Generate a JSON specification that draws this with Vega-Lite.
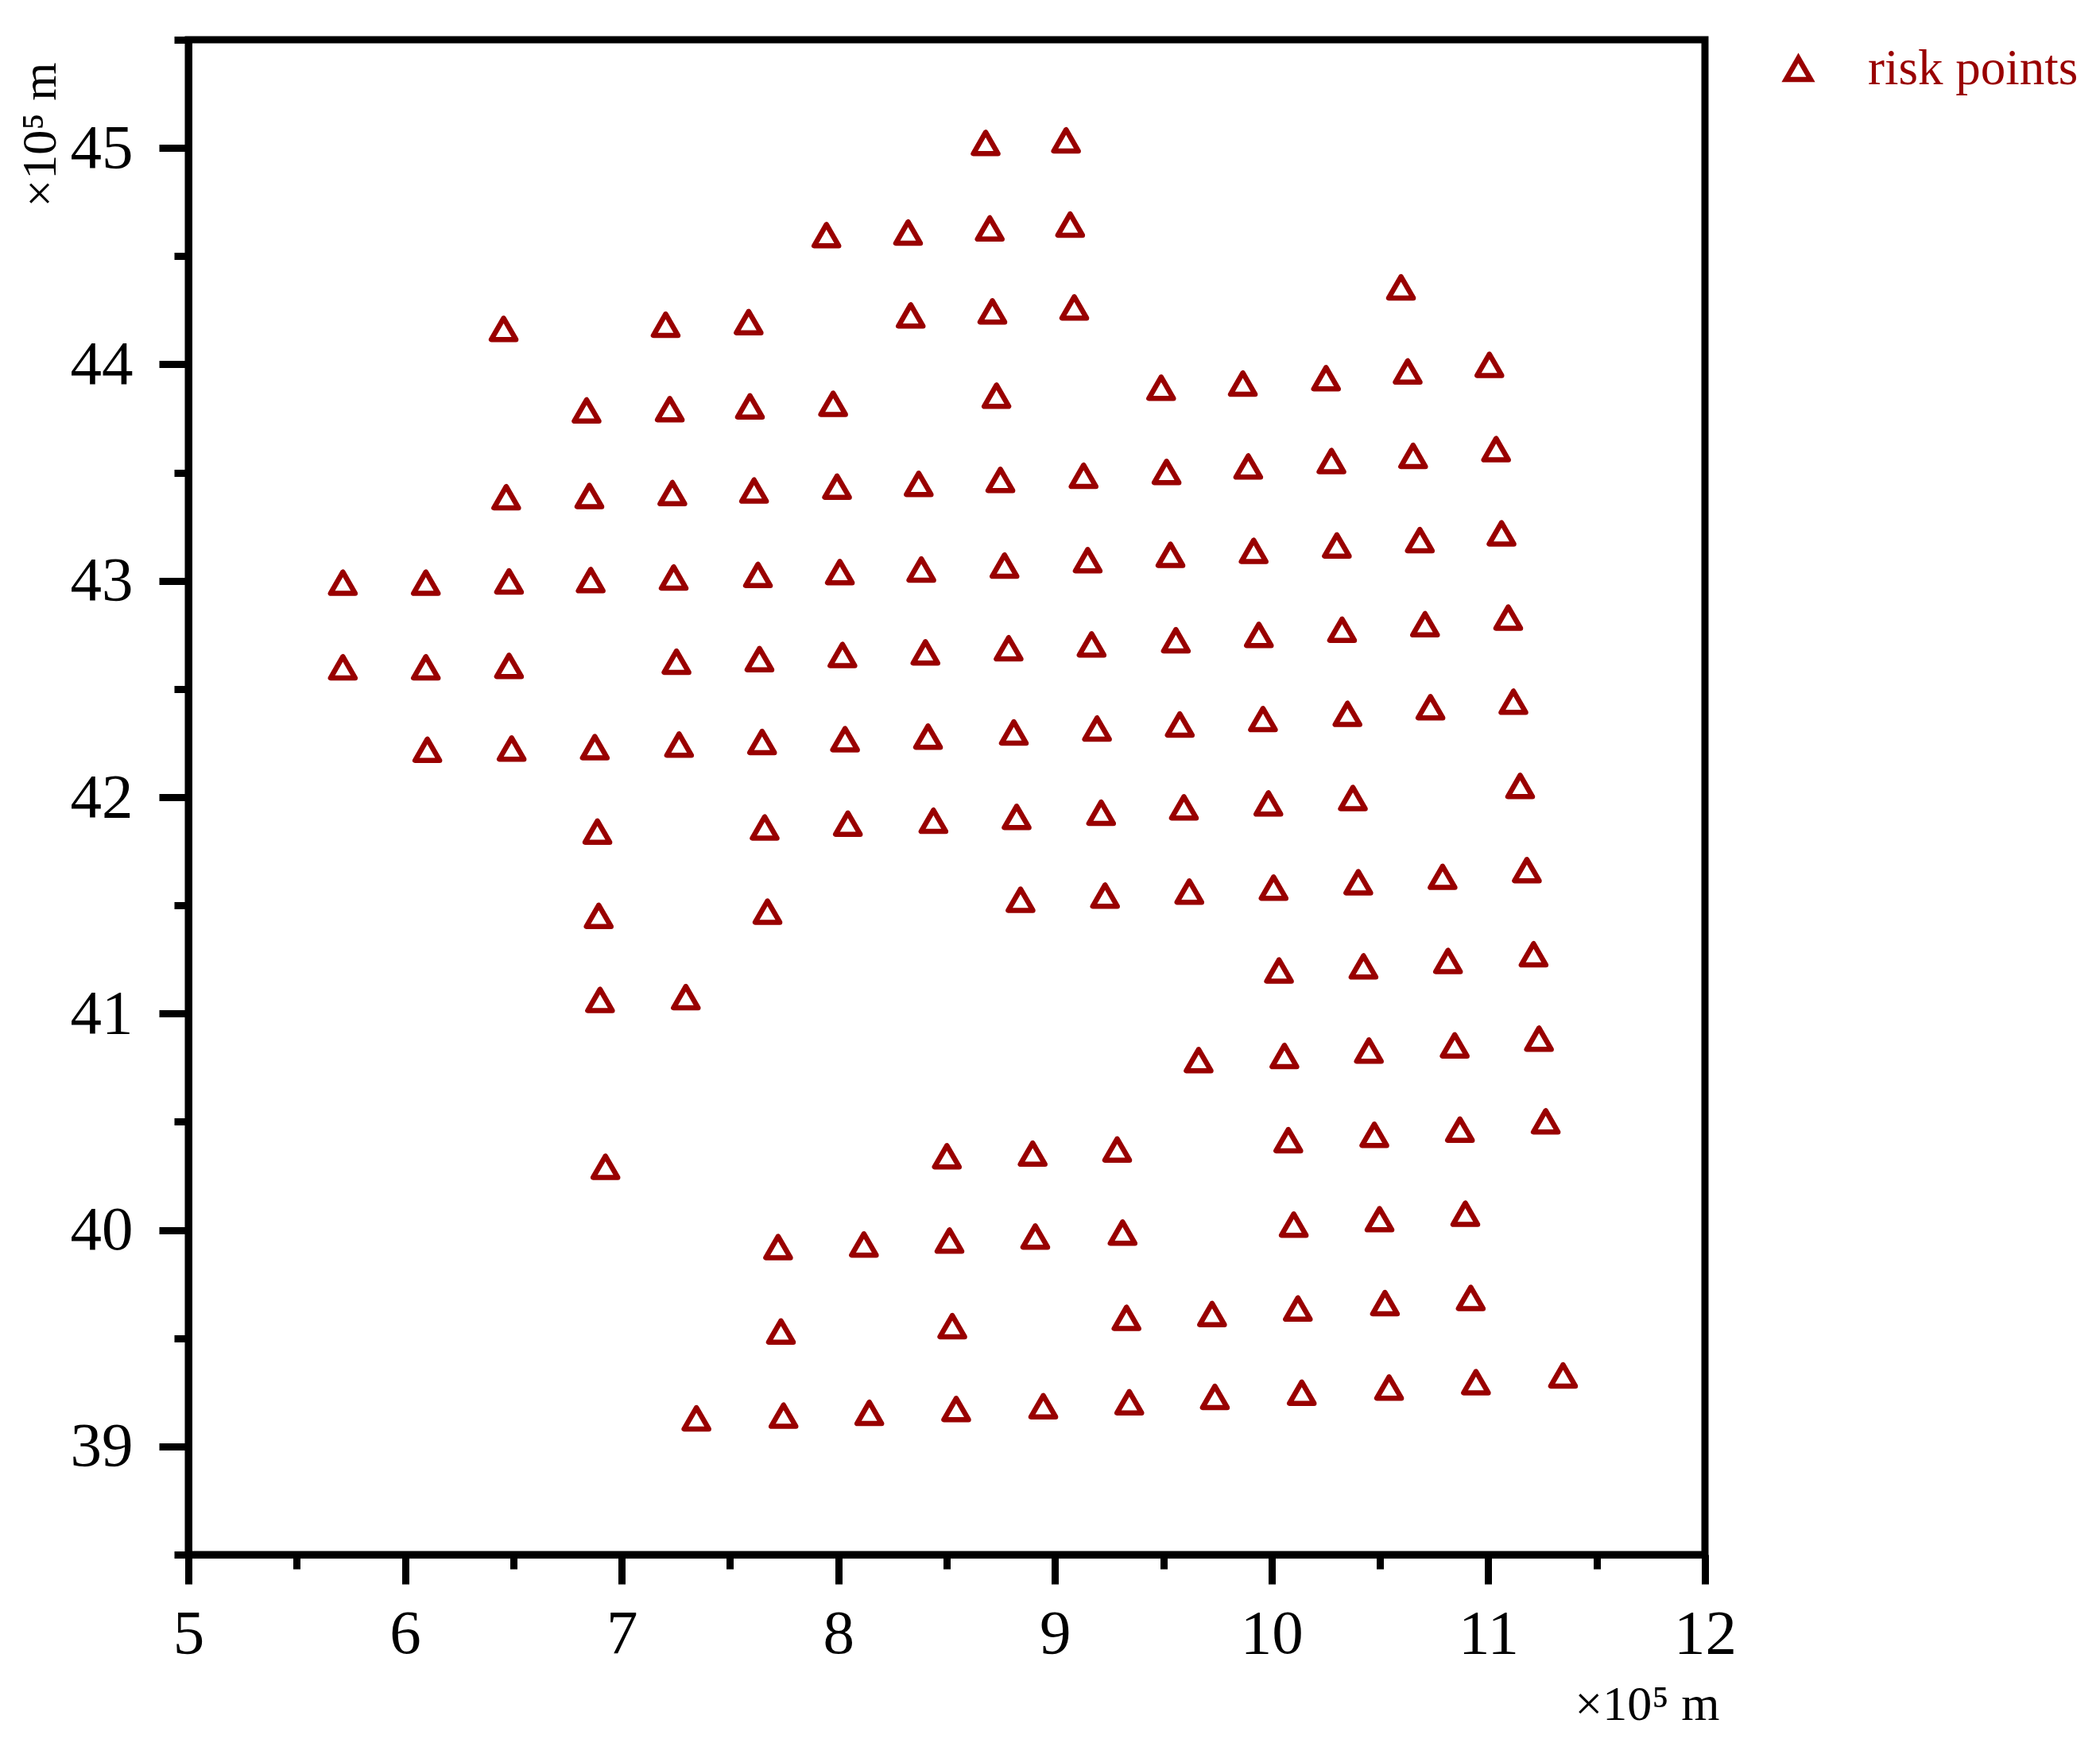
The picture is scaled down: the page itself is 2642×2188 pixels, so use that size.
{
  "$schema": "https://vega.github.io/schema/vega-lite/v6.json",
  "width": 1908,
  "height": 1906,
  "autosize": {"type": "none"},
  "padding": {"left": 237, "top": 50, "right": 497, "bottom": 232},
  "background": "white",
  "config": {
    "view": {"stroke": "black", "strokeWidth": 9},
    "font": "Liberation Serif",
    "axis": {
      "grid": false,
      "domainColor": "black",
      "domainWidth": 9,
      "tickColor": "black",
      "tickWidth": 9,
      "labelFont": "Liberation Serif",
      "labelFontSize": 79,
      "labelColor": "black",
      "labelOverlap": false,
      "labelFlush": false,
      "titleFont": "Liberation Serif",
      "titleFontSize": 62,
      "titleFontWeight": "normal",
      "titleColor": "black"
    }
  },
  "data": {
    "values": [
      {"x": 8.680, "y": 45.023, "series": "risk points"},
      {"x": 9.051, "y": 45.035, "series": "risk points"},
      {"x": 7.945, "y": 44.597, "series": "risk points"},
      {"x": 8.322, "y": 44.609, "series": "risk points"},
      {"x": 8.699, "y": 44.628, "series": "risk points"},
      {"x": 9.070, "y": 44.646, "series": "risk points"},
      {"x": 6.455, "y": 44.164, "series": "risk points"},
      {"x": 7.203, "y": 44.183, "series": "risk points"},
      {"x": 7.586, "y": 44.195, "series": "risk points"},
      {"x": 8.334, "y": 44.226, "series": "risk points"},
      {"x": 8.711, "y": 44.245, "series": "risk points"},
      {"x": 9.089, "y": 44.263, "series": "risk points"},
      {"x": 10.597, "y": 44.356, "series": "risk points"},
      {"x": 6.838, "y": 43.787, "series": "risk points"},
      {"x": 7.222, "y": 43.793, "series": "risk points"},
      {"x": 7.592, "y": 43.806, "series": "risk points"},
      {"x": 7.976, "y": 43.818, "series": "risk points"},
      {"x": 8.730, "y": 43.855, "series": "risk points"},
      {"x": 9.490, "y": 43.892, "series": "risk points"},
      {"x": 9.867, "y": 43.911, "series": "risk points"},
      {"x": 10.251, "y": 43.936, "series": "risk points"},
      {"x": 10.628, "y": 43.967, "series": "risk points"},
      {"x": 11.005, "y": 43.998, "series": "risk points"},
      {"x": 6.467, "y": 43.386, "series": "risk points"},
      {"x": 6.851, "y": 43.392, "series": "risk points"},
      {"x": 7.234, "y": 43.405, "series": "risk points"},
      {"x": 7.611, "y": 43.417, "series": "risk points"},
      {"x": 7.994, "y": 43.435, "series": "risk points"},
      {"x": 8.371, "y": 43.448, "series": "risk points"},
      {"x": 8.748, "y": 43.466, "series": "risk points"},
      {"x": 9.132, "y": 43.485, "series": "risk points"},
      {"x": 9.515, "y": 43.503, "series": "risk points"},
      {"x": 9.892, "y": 43.528, "series": "risk points"},
      {"x": 10.276, "y": 43.553, "series": "risk points"},
      {"x": 10.653, "y": 43.577, "series": "risk points"},
      {"x": 11.036, "y": 43.608, "series": "risk points"},
      {"x": 5.713, "y": 42.991, "series": "risk points"},
      {"x": 6.096, "y": 42.991, "series": "risk points"},
      {"x": 6.480, "y": 42.997, "series": "risk points"},
      {"x": 6.857, "y": 43.003, "series": "risk points"},
      {"x": 7.240, "y": 43.015, "series": "risk points"},
      {"x": 7.629, "y": 43.027, "series": "risk points"},
      {"x": 8.007, "y": 43.040, "series": "risk points"},
      {"x": 8.383, "y": 43.052, "series": "risk points"},
      {"x": 8.767, "y": 43.070, "series": "risk points"},
      {"x": 9.151, "y": 43.095, "series": "risk points"},
      {"x": 9.533, "y": 43.120, "series": "risk points"},
      {"x": 9.917, "y": 43.138, "series": "risk points"},
      {"x": 10.301, "y": 43.163, "series": "risk points"},
      {"x": 10.684, "y": 43.188, "series": "risk points"},
      {"x": 11.061, "y": 43.219, "series": "risk points"},
      {"x": 5.713, "y": 42.600, "series": "risk points"},
      {"x": 6.096, "y": 42.600, "series": "risk points"},
      {"x": 6.480, "y": 42.607, "series": "risk points"},
      {"x": 7.253, "y": 42.626, "series": "risk points"},
      {"x": 7.636, "y": 42.638, "series": "risk points"},
      {"x": 8.019, "y": 42.657, "series": "risk points"},
      {"x": 8.402, "y": 42.669, "series": "risk points"},
      {"x": 8.786, "y": 42.688, "series": "risk points"},
      {"x": 9.169, "y": 42.706, "series": "risk points"},
      {"x": 9.558, "y": 42.725, "series": "risk points"},
      {"x": 9.941, "y": 42.750, "series": "risk points"},
      {"x": 10.325, "y": 42.774, "series": "risk points"},
      {"x": 10.708, "y": 42.799, "series": "risk points"},
      {"x": 11.092, "y": 42.830, "series": "risk points"},
      {"x": 6.103, "y": 42.219, "series": "risk points"},
      {"x": 6.492, "y": 42.225, "series": "risk points"},
      {"x": 6.876, "y": 42.231, "series": "risk points"},
      {"x": 7.265, "y": 42.243, "series": "risk points"},
      {"x": 7.648, "y": 42.255, "series": "risk points"},
      {"x": 8.031, "y": 42.268, "series": "risk points"},
      {"x": 8.414, "y": 42.280, "series": "risk points"},
      {"x": 8.810, "y": 42.299, "series": "risk points"},
      {"x": 9.194, "y": 42.317, "series": "risk points"},
      {"x": 9.576, "y": 42.336, "series": "risk points"},
      {"x": 9.960, "y": 42.361, "series": "risk points"},
      {"x": 10.350, "y": 42.385, "series": "risk points"},
      {"x": 10.733, "y": 42.416, "series": "risk points"},
      {"x": 11.116, "y": 42.441, "series": "risk points"},
      {"x": 6.888, "y": 41.841, "series": "risk points"},
      {"x": 7.660, "y": 41.860, "series": "risk points"},
      {"x": 8.044, "y": 41.878, "series": "risk points"},
      {"x": 8.439, "y": 41.891, "series": "risk points"},
      {"x": 8.823, "y": 41.909, "series": "risk points"},
      {"x": 9.213, "y": 41.928, "series": "risk points"},
      {"x": 9.595, "y": 41.953, "series": "risk points"},
      {"x": 9.985, "y": 41.971, "series": "risk points"},
      {"x": 10.375, "y": 41.996, "series": "risk points"},
      {"x": 11.147, "y": 42.052, "series": "risk points"},
      {"x": 6.894, "y": 41.452, "series": "risk points"},
      {"x": 7.673, "y": 41.471, "series": "risk points"},
      {"x": 8.841, "y": 41.526, "series": "risk points"},
      {"x": 9.231, "y": 41.545, "series": "risk points"},
      {"x": 9.620, "y": 41.564, "series": "risk points"},
      {"x": 10.009, "y": 41.582, "series": "risk points"},
      {"x": 10.400, "y": 41.607, "series": "risk points"},
      {"x": 10.789, "y": 41.632, "series": "risk points"},
      {"x": 11.178, "y": 41.663, "series": "risk points"},
      {"x": 6.900, "y": 41.063, "series": "risk points"},
      {"x": 7.296, "y": 41.076, "series": "risk points"},
      {"x": 10.034, "y": 41.199, "series": "risk points"},
      {"x": 10.424, "y": 41.218, "series": "risk points"},
      {"x": 10.814, "y": 41.243, "series": "risk points"},
      {"x": 11.209, "y": 41.274, "series": "risk points"},
      {"x": 9.663, "y": 40.785, "series": "risk points"},
      {"x": 10.059, "y": 40.804, "series": "risk points"},
      {"x": 10.449, "y": 40.829, "series": "risk points"},
      {"x": 10.845, "y": 40.853, "series": "risk points"},
      {"x": 11.234, "y": 40.884, "series": "risk points"},
      {"x": 6.925, "y": 40.292, "series": "risk points"},
      {"x": 8.501, "y": 40.341, "series": "risk points"},
      {"x": 8.897, "y": 40.353, "series": "risk points"},
      {"x": 9.287, "y": 40.372, "series": "risk points"},
      {"x": 10.077, "y": 40.415, "series": "risk points"},
      {"x": 10.474, "y": 40.440, "series": "risk points"},
      {"x": 10.869, "y": 40.464, "series": "risk points"},
      {"x": 11.265, "y": 40.502, "series": "risk points"},
      {"x": 7.722, "y": 39.921, "series": "risk points"},
      {"x": 8.118, "y": 39.933, "series": "risk points"},
      {"x": 8.513, "y": 39.951, "series": "risk points"},
      {"x": 8.909, "y": 39.970, "series": "risk points"},
      {"x": 9.312, "y": 39.988, "series": "risk points"},
      {"x": 10.102, "y": 40.025, "series": "risk points"},
      {"x": 10.498, "y": 40.050, "series": "risk points"},
      {"x": 10.894, "y": 40.075, "series": "risk points"},
      {"x": 7.735, "y": 39.531, "series": "risk points"},
      {"x": 8.526, "y": 39.556, "series": "risk points"},
      {"x": 9.330, "y": 39.594, "series": "risk points"},
      {"x": 9.725, "y": 39.612, "series": "risk points"},
      {"x": 10.121, "y": 39.637, "series": "risk points"},
      {"x": 10.523, "y": 39.662, "series": "risk points"},
      {"x": 10.919, "y": 39.686, "series": "risk points"},
      {"x": 7.345, "y": 39.130, "series": "risk points"},
      {"x": 7.747, "y": 39.142, "series": "risk points"},
      {"x": 8.143, "y": 39.155, "series": "risk points"},
      {"x": 8.544, "y": 39.173, "series": "risk points"},
      {"x": 8.946, "y": 39.186, "series": "risk points"},
      {"x": 9.343, "y": 39.204, "series": "risk points"},
      {"x": 9.738, "y": 39.229, "series": "risk points"},
      {"x": 10.139, "y": 39.248, "series": "risk points"},
      {"x": 10.542, "y": 39.272, "series": "risk points"},
      {"x": 10.943, "y": 39.297, "series": "risk points"},
      {"x": 11.345, "y": 39.328, "series": "risk points"}
    ]
  },
  "layer": [
    {
      "mark": {"type": "point", "opacity": 0},
      "encoding": {
        "x": {
          "field": "x",
          "type": "quantitative",
          "scale": {"domain": [5, 12], "nice": false, "zero": false},
          "axis": {
            "orient": "bottom",
            "values": [5.5, 6.5, 7.5, 8.5, 9.5, 10.5, 11.5],
            "tickSize": 18,
            "labels": false,
            "domain": false,
            "title": null
          }
        },
        "y": {
          "field": "y",
          "type": "quantitative",
          "scale": {"domain": [38.5, 45.5], "nice": false, "zero": false},
          "axis": {
            "orient": "left",
            "values": [38.5, 39.5, 40.5, 41.5, 42.5, 43.5, 44.5, 45.5],
            "tickSize": 18,
            "labels": false,
            "domain": false,
            "title": null
          }
        }
      }
    },
    {
      "mark": {
        "type": "point",
        "shape": "triangle-up",
        "filled": false,
        "size": 960,
        "strokeWidth": 6.5,
        "strokeJoin": "round",
        "opacity": 1
      },
      "encoding": {
        "x": {
          "field": "x",
          "type": "quantitative",
          "scale": {"domain": [5, 12], "nice": false, "zero": false},
          "axis": {
            "orient": "bottom",
            "values": [5, 6, 7, 8, 9, 10, 11, 12],
            "format": "d",
            "tickSize": 37,
            "labelPadding": 24,
            "domain": true,
            "title": "×10⁵ m",
            "titleAngle": 0,
            "titleX": 1926,
            "titleY": 207,
            "titleAlign": "right",
            "titleBaseline": "alphabetic"
          }
        },
        "y": {
          "field": "y",
          "type": "quantitative",
          "scale": {"domain": [38.5, 45.5], "nice": false, "zero": false},
          "axis": {
            "orient": "left",
            "values": [39, 40, 41, 42, 43, 44, 45],
            "format": "d",
            "tickSize": 37,
            "labelPadding": 33,
            "domain": true,
            "title": "×10⁵ m",
            "titleAngle": -90,
            "titleX": -187,
            "titleY": 28,
            "titleAlign": "right",
            "titleBaseline": "middle"
          }
        },
        "color": {
          "field": "series",
          "type": "nominal",
          "scale": {"range": ["#990000"]},
          "legend": {
            "title": null,
            "orient": "none",
            "legendX": 1994,
            "legendY": 5,
            "padding": 0,
            "symbolType": "triangle-up",
            "symbolSize": 960,
            "symbolStrokeWidth": 6.5,
            "symbolStrokeColor": "#990000",
            "symbolFillColor": "transparent",
            "labelFont": "Liberation Serif",
            "labelFontSize": 63,
            "labelColor": "#990000",
            "labelOffset": 56,
            "labelLimit": 1000
          }
        }
      }
    }
  ],
  "resolve": {"axis": {"x": "independent", "y": "independent"}}
}
